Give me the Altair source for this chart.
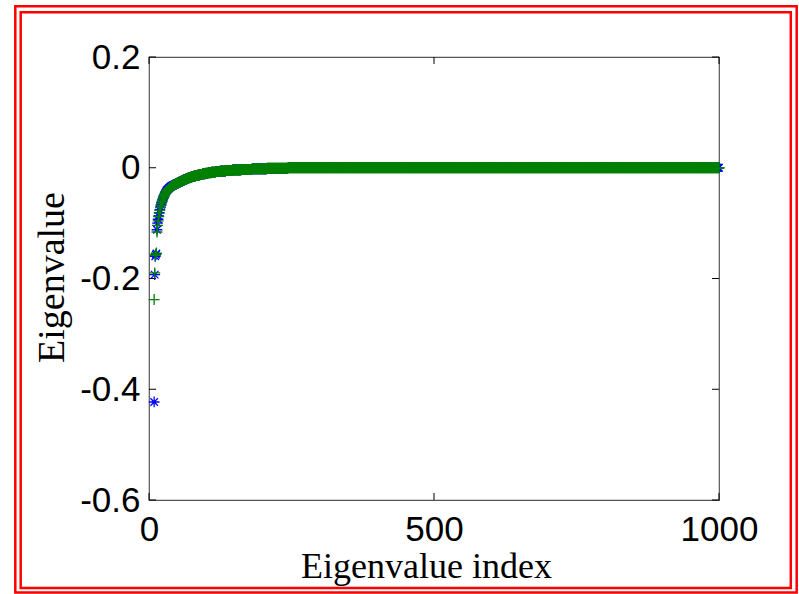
import altair as alt
import pandas as pd

# ---------------- data ----------------
start_index = 9
# run-length encoded eigenvalues: value repeated count times, from start_index on
blue_values = [-0.423, -0.193, -0.160, -0.157, -0.155, -0.112, -0.100, -0.093,
               -0.087, -0.081, -0.076, -0.071, -0.067, -0.063, -0.060, -0.057,
               -0.054, -0.051, -0.049, -0.047, -0.045, -0.043, -0.041, -0.040,
               -0.039, -0.038, -0.037, -0.036, -0.035, -0.034, -0.034, -0.033,
               -0.032, -0.032,
               -0.031, -0.030, -0.029, -0.028, -0.027, -0.026, -0.025, -0.024,
               -0.023, -0.022, -0.021, -0.020, -0.019, -0.018, -0.017, -0.016,
               -0.015, -0.014, -0.013, -0.012, -0.011, -0.010, -0.009, -0.008,
               -0.007, -0.006, -0.005, -0.004, -0.003, -0.002, -0.001, 0.0]
blue_counts = [1] * 34 + [2] * 12 + [3] * 5 + [4] * 3 + [5] * 2 + \
              [6, 7, 8, 10, 12, 15, 19, 26, 37, 757]

green_values = [-0.238, -0.190, -0.158, -0.156, -0.154, -0.116, -0.104, -0.096,
                -0.088, -0.082, -0.077, -0.072, -0.068, -0.064, -0.061, -0.058,
                -0.055, -0.052, -0.050, -0.048, -0.046, -0.044, -0.042, -0.041,
                -0.040, -0.039, -0.038, -0.037, -0.036, -0.035, -0.034, -0.033,
                -0.033, -0.032,
                -0.031, -0.030, -0.029, -0.028, -0.027, -0.026, -0.025, -0.024,
                -0.023, -0.022, -0.021, -0.020, -0.019, -0.018, -0.017, -0.016,
                -0.015, -0.014, -0.013, -0.012, -0.011, -0.010, -0.009, -0.008,
                -0.007, -0.006, -0.005, -0.004, -0.003, -0.002, -0.001, 0.0]
green_counts = [1] * 34 + [2] * 12 + [3] * 5 + [4] * 3 + [5] * 2 + \
               [6, 7, 8, 10, 12, 15, 19, 26, 37, 757]

x_ticks = [0, 500, 1000]
y_ticks = [-0.6, -0.4, -0.2, 0, 0.2]

x_title = "Eigenvalue index"
y_title = "Eigenvalue"


def expand(values, counts):
    rows = []
    i = start_index
    for v, c in zip(values, counts):
        for _ in range(c):
            rows.append({"index": i, "value": v})
            i += 1
    return pd.DataFrame(rows)


blue_df = expand(blue_values, blue_counts)
green_df = expand(green_values, green_counts)
xt_df = pd.DataFrame({"index": x_ticks})
yt_df = pd.DataFrame({"value": y_ticks})

# ---------------- layout ----------------
W, H = 570, 443
PL, PT = 149, 57

xscale = alt.Scale(domain=[0, 1000], nice=False, zero=False)
yscale = alt.Scale(domain=[-0.6, 0.2], nice=False, zero=False)

xaxis = alt.Axis(values=x_ticks, labelExpr="'' + datum.value", grid=False,
                 ticks=False, tickSize=0, domain=False, labelFont="Liberation Sans",
                 labelFontSize=35, labelColor="black", labelPadding=12,
                 labelFlush=False, labelOverlap=False,
                 title=x_title, titleFont="Liberation Serif", titleFontSize=36,
                 titleFontWeight="normal", titleColor="black",
                 titleX=277, titleY=77, titleBaseline="alphabetic",
                 titleAlign="center")
yaxis = alt.Axis(values=y_ticks, labelExpr="'' + datum.value", grid=False,
                 ticks=False, tickSize=0, domain=False, labelFont="Liberation Sans",
                 labelFontSize=35, labelColor="black", labelPadding=9,
                 labelFlush=False, labelOverlap=False,
                 title=y_title, titleFont="Liberation Serif", titleFontSize=38,
                 titleFontWeight="normal", titleColor="black",
                 titleX=-86, titleY=220, titleBaseline="alphabetic",
                 titleAlign="center")

X = alt.X("index:Q", scale=xscale, axis=xaxis)
Y = alt.Y("value:Q", scale=yscale, axis=yaxis)

one = pd.DataFrame({"k": [0]})
outer = alt.Chart(one).mark_rect(filled=False, stroke="#ff0000", strokeWidth=2.5).encode(
    x=alt.value(15.3 - PL), x2=alt.value(796.7 - PL),
    y=alt.value(6.2 - PT), y2=alt.value(592.5 - PT))
inner = alt.Chart(one).mark_rect(filled=False, stroke="#ff0000", strokeWidth=2.5).encode(
    x=alt.value(20.7 - PL), x2=alt.value(790.8 - PL),
    y=alt.value(12.2 - PT), y2=alt.value(588 - PT))

TL = 7
tick_style = dict(color="black", strokeWidth=1)
left_t = alt.Chart(yt_df).mark_rule(**tick_style).encode(
    y=Y, x=alt.value(0), x2=alt.value(TL))
right_t = alt.Chart(yt_df).mark_rule(**tick_style).encode(
    y=Y, x=alt.value(W - TL), x2=alt.value(W))
bottom_t = alt.Chart(xt_df).mark_rule(**tick_style).encode(
    x=X, y=alt.value(H - TL), y2=alt.value(H))
top_t = alt.Chart(xt_df).mark_rule(**tick_style).encode(
    x=X, y=alt.value(0), y2=alt.value(TL))

asterisk = "M-1,0L1,0M0,-1L0,1M-0.7,-0.7L0.7,0.7M-0.7,0.7L0.7,-0.7"
plus = "M-1,0L1,0M0,-1L0,1"

blue = alt.Chart(blue_df).mark_point(shape=asterisk, filled=False, size=115,
                                     strokeWidth=1.3, color="#0000ff", opacity=1).encode(x=X, y=Y)
green = alt.Chart(green_df).mark_point(shape=plus, filled=False, size=120,
                                       strokeWidth=1.3, color="#008000", opacity=1).encode(x=X, y=Y)

chart = alt.layer(outer, inner, left_t, right_t, bottom_t, top_t, blue, green).properties(
    width=W, height=H,
    padding={"left": PL, "top": PT, "right": 799 - PL - W, "bottom": 594 - PT - H},
    autosize=alt.AutoSizeParams(type="none"),
    background="white",
).configure_view(stroke="#555555", strokeWidth=1.2)

chart.save("out.html", embed_options={"renderer": "svg", "actions": False})
